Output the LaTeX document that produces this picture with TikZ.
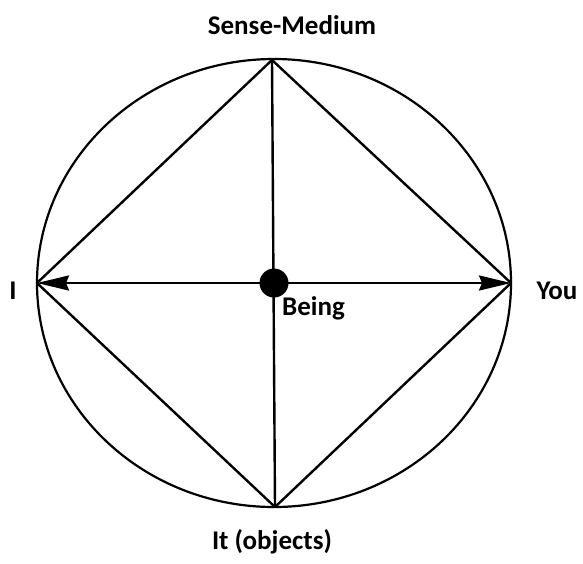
\documentclass[tikz,border=0pt]{standalone}
\usepackage{fontspec}
\setmainfont{Carlito}
\usetikzlibrary{arrows.meta}
\begin{document}
\begin{tikzpicture}[x=1pt,y=-1pt,
  shape line/.style={line width=2.4pt, line cap=round, line join=round},
  lbl/.style={font=\bfseries\fontsize{27}{32}\selectfont, inner sep=0pt},
  tip/.style={-{Stealth[length=32pt,width=15pt,inset=3pt]}}]
\useasboundingbox (0,0) rectangle (583,563);
\coordinate (C) at (274,283);
\coordinate (L) at (37,283);
\coordinate (R) at (511,283);
\coordinate (T) at (272,60);
\coordinate (B) at (275,507);
\draw[line width=2.2pt] (C) ellipse [x radius=237, y radius=224];
\draw[shape line] (L) -- (T) -- (R) -- (B) -- cycle;
\draw[shape line] (T) -- (B);
\draw[shape line, tip] (C) -- (L);
\draw[shape line, tip] (C) -- (R);
\fill (C) circle (14.5);
\node[lbl] (sm) at (292,25) {Sense-Medium};
\node[lbl] (it) at (272,542) {It (objects)};
\node[lbl] (i) at (13,291) {I};
\node[lbl] (you) at (557,291) {You};
\node[lbl, anchor=base west] (being) at (282,315) {Being};
\end{tikzpicture}
\end{document}
